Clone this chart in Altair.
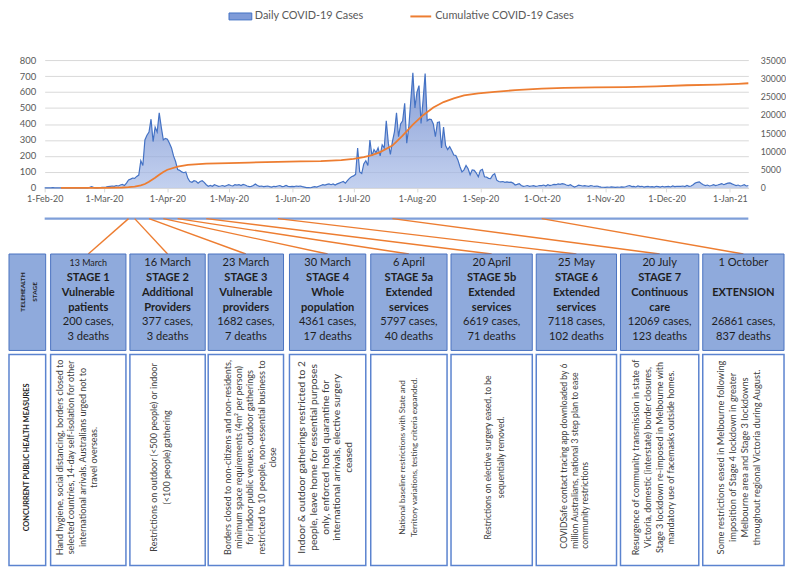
import altair as alt
import pandas as pd

# ------------------------------------------------------------------ data
daily_start = "2020-02-01"
daily_feb = [0, 1, 0, 0, 2, 0, 1, 0, 0, 0, 0, 0, 0, 0, 0, 0, 0, 0, 0, 0, 0, 0, 3, 8, 2, 0, 0, 1, 3]
daily_mar = [4, 5, 8, 10, 12, 10, 15, 12, 18, 22, 15, 30, 50, 55, 62, 60, 72, 80, 170, 140,
             300, 330, 350, 430, 290, 380, 350, 470, 380, 300, 310]
daily_apr = [305, 280, 250, 200, 165, 115, 110, 100, 95, 100, 60, 40, 35, 45, 42, 30, 40, 45, 35, 20,
             10, 15, 10, 20, 15, 10, 12, 15, 10, 15]
daily_may = [20, 15, 12, 20, 18, 20, 15, 22, 18, 12, 8, 10, 15, 25, 15, 10, 12, 8, 10, 12,
             8, 5, 10, 8, 12, 15, 8, 10, 15, 10, 8]
daily_jun = [10, 8, 12, 10, 12, 8, 5, 2, 2, 1, 5, 8, 5, 10, 15, 20, 18, 22, 25, 20,
             25, 18, 25, 30, 35, 40, 30, 45, 60, 70]
daily_jul = [75, 85, 250, 100, 90, 150, 170, 140, 300, 200, 240, 220, 250, 200, 270, 250, 420, 280, 210, 290,
             350, 470, 320, 400, 420, 530, 280, 380, 550, 720, 500]
daily_aug = [600, 640, 403, 550, 715, 420, 430, 428, 400, 320, 410, 413, 250, 380, 265, 240, 258, 234, 206, 203,
             175, 134, 100, 113, 140, 120, 82, 113, 110, 93, 70]
daily_sep = [110, 116, 70, 68, 60, 58, 80, 89, 48, 40, 38, 40, 35, 38, 35, 36, 30, 18, 22, 27,
             15, 10, 12, 15, 10, 12, 14, 10, 12, 15]
daily_oct = [14, 18, 12, 20, 15, 18, 22, 20, 25, 22, 27, 24, 18, 15, 20, 12, 5, 10, 17, 15,
             12, 14, 12, 10, 15, 12, 10, 12, 8, 5, 4]
daily_nov = [3, 5, 4, 6, 5, 3, 5, 4, 6, 5, 7, 12, 15, 8, 10, 6, 12, 8, 10, 5,
             8, 10, 6, 8, 5, 10, 8, 5, 10, 6]
daily_dec = [8, 10, 6, 12, 8, 10, 9, 10, 12, 8, 15, 10, 12, 20, 30, 35, 38, 28, 20, 15,
             18, 12, 15, 20, 15, 18, 22, 27, 20, 25, 30]
daily_jan = [31, 25, 20, 15, 18, 12, 15, 20, 12, 15]

cum_dates = ["2020-02-09", "2020-03-01", "2020-03-10", "2020-03-13", "2020-03-16", "2020-03-19",
             "2020-03-21", "2020-03-23", "2020-03-26", "2020-03-28", "2020-03-30", "2020-04-01",
             "2020-04-06", "2020-04-11", "2020-04-20", "2020-05-01", "2020-05-11", "2020-05-25",
             "2020-06-05", "2020-06-15", "2020-06-25", "2020-07-01", "2020-07-06", "2020-07-10",
             "2020-07-14", "2020-07-20", "2020-07-25", "2020-07-30", "2020-08-04", "2020-08-09",
             "2020-08-14", "2020-08-19", "2020-08-24", "2020-08-31", "2020-09-08", "2020-09-18",
             "2020-10-01", "2020-10-12", "2020-10-27", "2020-11-11", "2020-11-26", "2020-12-11",
             "2020-12-26", "2021-01-05", "2021-01-10"]
cum_values = [15, 27, 110, 200, 377, 700,
              1070, 1682, 2800, 3600, 4361, 4970,
              5797, 6300, 6619, 6780, 6950, 7118,
              7250, 7350, 7600, 7950, 8450, 9000,
              9800, 11600, 14300, 17300, 19900, 22000,
              23500, 24500, 25300, 25900, 26300, 26750,
              27150, 27400, 27500, 27600, 27800, 28100,
              28300, 28500, 28650]

month_ticks = ["2020-02-01", "2020-03-01", "2020-04-01", "2020-05-01", "2020-06-01", "2020-07-01",
               "2020-08-01", "2020-09-01", "2020-10-01", "2020-11-01", "2020-12-01", "2021-01-01"]
axis_start, axis_end = "2020-02-01", "2021-01-10"

legend_labels = ["Daily COVID-19 Cases", "Cumulative COVID-19 Cases"]

stage_dates = ["2020-03-13", "2020-03-16", "2020-03-23", "2020-03-30", "2020-04-06",
               "2020-04-20", "2020-05-25", "2020-07-20", "2020-10-01"]
stage_date_labels = ["13 March", "16 March", "23 March", "30 March", "6 April",
                     "20 April", "25 May", "20 July", "1 October"]
stage_titles = ["STAGE 1", "STAGE 2", "STAGE 3", "STAGE 4", "STAGE 5a", "STAGE 5b", "STAGE 6", "STAGE 7", ""]
stage_name1 = ["Vulnerable", "Additional", "Vulnerable", "Whole", "Extended", "Extended",
               "Extended", "Continuous", "EXTENSION"]
stage_name2 = ["patients", "Providers", "providers", "population", "services", "services",
               "services", "care", ""]
stage_cases = ["200 cases,", "377 cases,", "1682 cases,", "4361 cases,", "5797 cases,",
               "6619 cases,", "7118 cases,", "12069 cases,", "26861 cases,"]
stage_deaths = ["3 deaths", "3 deaths", "7 deaths", "17 deaths", "40 deaths",
                "71 deaths", "102 deaths", "123 deaths", "837 deaths"]

row_header_top = ["TELEHEALTH", "STAGE"]
row_header_bottom = "CONCURRENT PUBLIC HEALTH MEASURES"

measures = [
    ["Hand hygiene, social distancing, borders closed to",
     "selected countries, 14-day self-isolation for other",
     "international arrivals. Australians urged not to",
     "travel overseas."],
    ["Restrictions on outdoor (<500 people) or indoor",
     "(<100 people) gathering"],
    ["Borders closed to non-citizens and non-residents,",
     "minimum space requirements (4m\u00b2 per person)",
     "for indoor public venues, outdoor gatherings",
     "restricted to 10 people, non-essential business to",
     "close"],
    ["Indoor & outdoor gatherings restricted to 2",
     "people, leave home for essential purposes",
     "only, enforced hotel quarantine for",
     "international arrivals, elective surgery",
     "ceased"],
    ["National baseline restrictions with State and",
     "Territory variations, testing criteria expanded."],
    ["Restrictions on elective surgery eased, to be",
     "sequentially removed."],
    ["COVIDSafe contact tracing app downloaded by 6",
     "million Australians, national 3 step plan to ease",
     "community restrictions"],
    ["Resurgence of community transmission in state of",
     "Victoria, domestic (interstate) border closures,",
     "Stage 3 lockdown re-imposed in Melbourne with",
     "mandatory use of facemasks outside homes."],
    ["Some restrictions eased in Melbourne following",
     "imposition of Stage 4 lockdown in greater",
     "Melbourne area and Stage 3 lockdowns",
     "throughout regional Victoria during August."],
]

# ------------------------------------------------------------------ layout (pixels, relative to plot origin)
W, H = 710, 129
LINE_Y = 160
ROW1_TOP, ROW1_BOT = 195.7, 293
ROW2_TOP, ROW2_BOT = 297, 510
row1_line_y = [205, 219.7, 234.7, 249.7, 264.7, 279.7]
box_left = [-36, 6, 86, 165, 247, 329, 410, 496, 581, 664]
box_right = [1, 82, 162, 241, 324, 406, 492, 577, 660, 746]
row2_first = [9, 24, 20, 13, 33, 37, 28, 16, 18]
row2_step = [11.7, 13, 11.3, 11.7, 12, 13, 10.8, 11.7, 12.3]
row2_size = [9.1, 9.1, 9.1, 10.3, 8.1, 8.6, 8.7, 9.1, 9.4]
row2_left_aligned = [7]
ROW2_TEXT_Y = 401
FONT = "Lato"

T0 = pd.Timestamp(axis_start)
T1 = pd.Timestamp(axis_end)


def iso(ts):
    return pd.Timestamp(ts).strftime("%Y-%m-%dT%H:%M:%SZ")


def px_to_date(px):
    return iso(T0 + (T1 - T0) * (px / W))


def dt(s):
    t = pd.Timestamp(s)
    return alt.DateTime(year=t.year, month=t.month, date=t.day, utc=True)


# ------------------------------------------------------------------ frames
daily_values = (daily_feb + daily_mar + daily_apr + daily_may + daily_jun + daily_jul +
                daily_aug + daily_sep + daily_oct + daily_nov + daily_dec + daily_jan)
daily_dates = [iso(d) for d in pd.date_range(daily_start, periods=len(daily_values), freq="D")]
daily_df = pd.DataFrame({"date": daily_dates, "cases": daily_values})
cum_df = pd.DataFrame({"date": [iso(d) for d in cum_dates], "cum": cum_values})

xscale = alt.Scale(type="utc", domain=[dt(axis_start), dt(axis_end)], nice=False)
xaxis = alt.Axis(title=None, values=[dt(m) for m in month_ticks],
                 labelExpr="utcFormat(datum.value, '%-d-%b-%y')",
                 grid=False, domainColor="#D9D9D9", tickColor="#D9D9D9", tickSize=4,
                 labelColor="#595959", labelFontSize=9, labelFont=FONT, labelPadding=3,
                 labelFlush=False, labelOverlap=False)


def X(field):
    return alt.X(f"{field}:T", scale=xscale, axis=xaxis)


def X2(field):
    return alt.X2(f"{field}:T")


gradient = alt.Gradient(gradient="linear",
                        stops=[alt.GradientStop(color="#AABDE8", offset=0),
                               alt.GradientStop(color="#5475C4", offset=1)],
                        x1=1, x2=1, y1=1, y2=0)

area = alt.Chart(daily_df).mark_area(
    color=gradient, line={"color": "#4472C4", "strokeWidth": 1.2}, interpolate="linear"
).encode(
    x=X("date"),
    y=alt.Y("cases:Q", scale=alt.Scale(domain=[0, 800], nice=False),
            axis=alt.Axis(orient="left", title=None, values=list(range(0, 801, 100)),
                          grid=True, gridColor="#D9D9D9", domain=False, ticks=False,
                          labelColor="#595959", labelFontSize=9.5, labelFont=FONT, labelPadding=9)),
)

cum_line = alt.Chart(cum_df).mark_line(color="#ED7D31", strokeWidth=1.8).encode(
    x=X("date"),
    y=alt.Y("cum:Q", scale=alt.Scale(domain=[0, 35000], nice=False),
            axis=alt.Axis(orient="right", title=None, values=list(range(0, 35001, 5000)),
                          format="d", grid=False, domain=False, ticks=False,
                          labelColor="#595959", labelFontSize=8.8, labelFont=FONT, labelPadding=12)),
)

span_df = pd.DataFrame({"s": [iso(axis_start)], "e": [iso(axis_end)]})
blue_line = alt.Chart(span_df).mark_rule(color="#7F9FD9", strokeWidth=2.2).encode(
    x=X("s"), x2=X2("e"), y=alt.value(LINE_Y))

conn_df = pd.DataFrame({
    "x": [iso(d) for d in stage_dates],
    "xc": [px_to_date((box_left[i + 1] + box_right[i + 1]) / 2) for i in range(len(stage_dates))],
})
connectors = alt.Chart(conn_df).mark_rule(color="#ED7D31", strokeWidth=1.4).encode(
    x=X("x"), x2=X2("xc"), y=alt.value(LINE_Y), y2=alt.value(ROW1_TOP))

box_df = pd.DataFrame({"l": [px_to_date(v) for v in box_left], "r": [px_to_date(v) for v in box_right]})
boxes1 = alt.Chart(box_df).mark_rect(fill="#8FAADC", stroke="#4A72C0", strokeWidth=1).encode(
    x=X("l"), x2=X2("r"), y=alt.value(ROW1_TOP), y2=alt.value(ROW1_BOT))
boxes2 = alt.Chart(box_df).mark_rect(fill="white", stroke="#5B83CF", strokeWidth=1.5).encode(
    x=X("l"), x2=X2("r"), y=alt.value(ROW2_TOP), y2=alt.value(ROW2_BOT))

# row 1 text
rows1 = []
for i in range(len(stage_dates)):
    xc = px_to_date((box_left[i + 1] + box_right[i + 1]) / 2)
    lines = [stage_date_labels[i], stage_titles[i], stage_name1[i], stage_name2[i],
             stage_cases[i], stage_deaths[i]]
    for j, t in enumerate(lines):
        if t:
            rows1.append({"x": xc, "text": t, "line": j,
                          "size": 9 if (i == 0 and j == 0) else 11.2})
rows1_df = pd.DataFrame(rows1)
row1_layers = []
for j, yv in enumerate(row1_line_y):
    row1_layers.append(
        alt.Chart(rows1_df).transform_filter(f"datum.line == {j}").mark_text(
            font=FONT, fontWeight="bold" if j in (1, 2, 3) else "normal",
            color="#1F1F1F", align="center", baseline="middle"
        ).encode(x=X("x"), y=alt.value(yv), text="text:N",
                 size=alt.Size("size:Q", scale=None, legend=None))
    )

hdr_df = pd.DataFrame({"x": [px_to_date(-22), px_to_date(-10)], "text": row_header_top})
hdr_top = alt.Chart(hdr_df).mark_text(
    font=FONT, fontWeight="bold", fontSize=6.5, angle=270, color="#1F1F1F",
    align="center", baseline="middle").encode(x=X("x"), y=alt.value(234), text="text:N")

hdr2_df = pd.DataFrame({"x": [px_to_date((box_left[0] + box_right[0]) / 2)], "text": [row_header_bottom]})
hdr_bottom = alt.Chart(hdr2_df).mark_text(
    font=FONT, fontWeight="bold", fontSize=7.4, angle=270, color="#1F1F1F",
    align="center", baseline="middle").encode(x=X("x"), y=alt.value(ROW2_TEXT_Y), text="text:N")

# row 2 text
rows2 = []
for i, lines in enumerate(measures):
    for k, t in enumerate(lines):
        px = box_left[i + 1] + row2_first[i] + k * row2_step[i]
        rows2.append({"x": px_to_date(px), "text": t, "box": i + 1, "size": row2_size[i],
                      "left": 1 if (i + 1) in row2_left_aligned else 0})
rows2_df = pd.DataFrame(rows2)
row2_center = alt.Chart(rows2_df).transform_filter("datum.left == 0").mark_text(
    font=FONT, angle=270, color="#404040", align="center", baseline="middle"
).encode(x=X("x"), y=alt.value(ROW2_TEXT_Y), text="text:N",
         size=alt.Size("size:Q", scale=None, legend=None))
row2_left = alt.Chart(rows2_df).transform_filter("datum.left == 1").mark_text(
    font=FONT, angle=270, color="#404040", align="left", baseline="middle"
).encode(x=X("x"), y=alt.value(ROW2_BOT - 17), text="text:N",
         size=alt.Size("size:Q", scale=None, legend=None))

# legend
leg_df = pd.DataFrame({"label": legend_labels, "k": [0, 1]})
LEG_Y = -44
leg_sym1 = alt.Chart(leg_df).transform_filter("datum.k == 0").mark_rect(
    fill="#7F9BD8", stroke="#4472C4", strokeWidth=1).encode(
    x=alt.value(186), x2=alt.value(209), y=alt.value(LEG_Y - 3.5), y2=alt.value(LEG_Y + 3.5))
leg_txt1 = alt.Chart(leg_df).transform_filter("datum.k == 0").mark_text(
    font=FONT, fontSize=11, color="#595959", align="left", baseline="middle").encode(
    x=alt.value(212), y=alt.value(LEG_Y), text="label:N")
leg_sym2 = alt.Chart(leg_df).transform_filter("datum.k == 1").mark_rule(
    color="#ED7D31", strokeWidth=2).encode(x=alt.value(369), x2=alt.value(390), y=alt.value(LEG_Y))
leg_txt2 = alt.Chart(leg_df).transform_filter("datum.k == 1").mark_text(
    font=FONT, fontSize=11, color="#595959", align="left", baseline="middle").encode(
    x=alt.value(394), y=alt.value(LEG_Y), text="label:N")

chart = alt.layer(
    area, cum_line, blue_line, connectors, boxes1, boxes2,
    *row1_layers, hdr_top, hdr_bottom, row2_center, row2_left,
    leg_sym1, leg_txt1, leg_sym2, leg_txt2,
).resolve_scale(y="independent").properties(
    width=W, height=H, padding=0
).configure(font=FONT).configure_view(stroke=None)

chart.save("out.html", embed_options={"renderer": "svg", "actions": False})
